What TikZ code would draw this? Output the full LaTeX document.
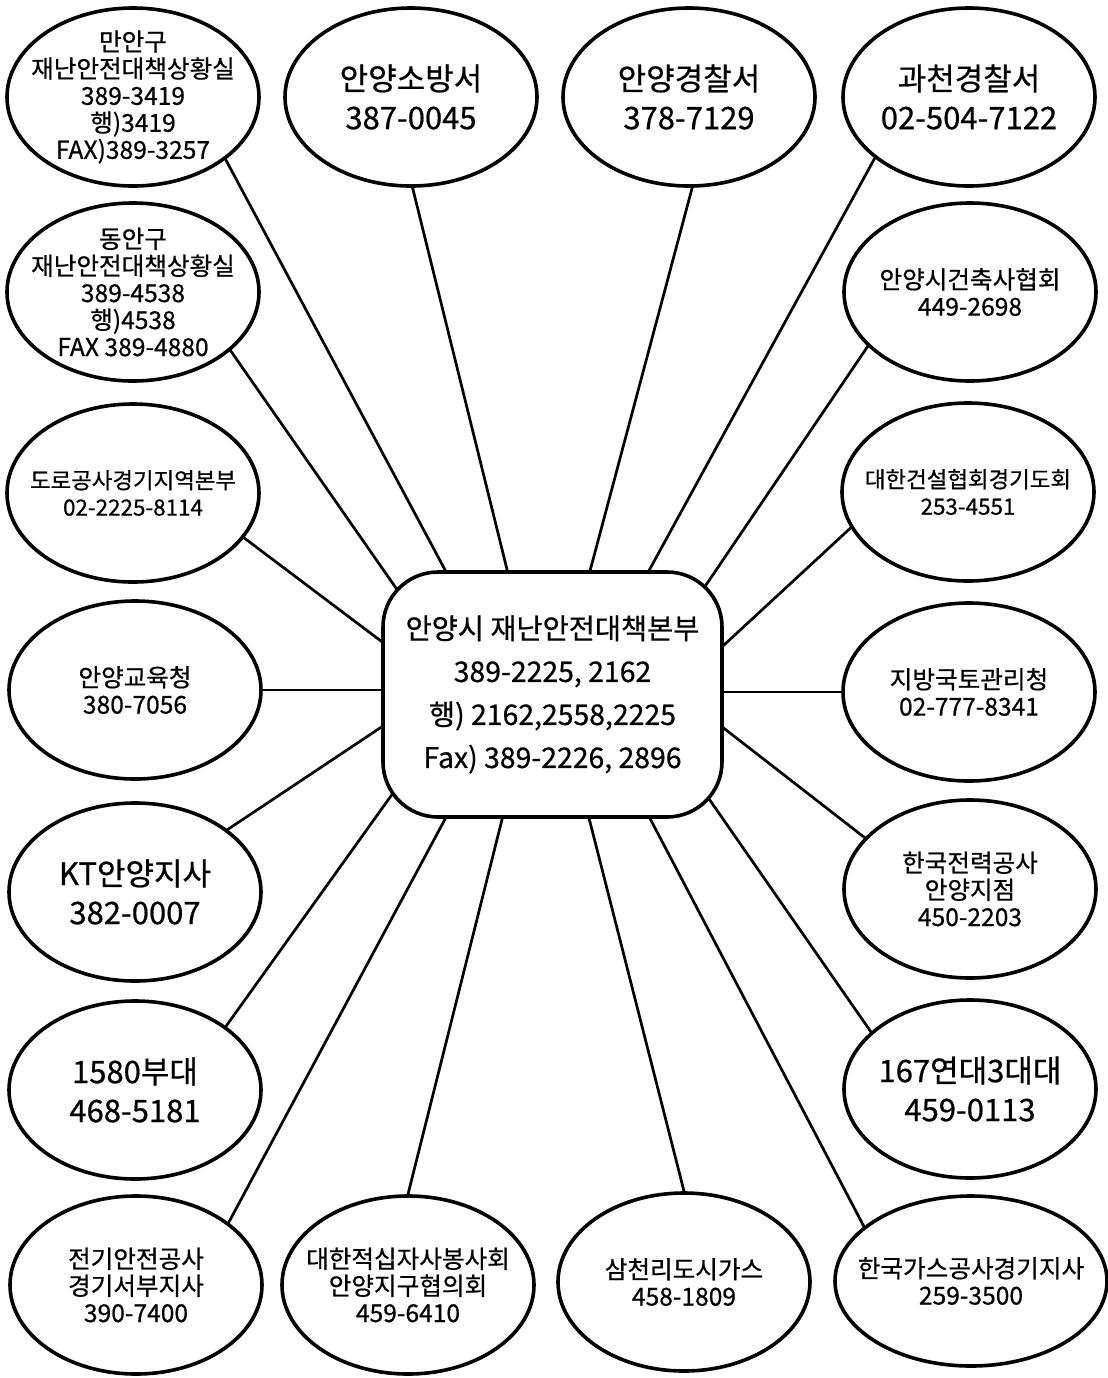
\documentclass[tikz,border=0pt]{standalone}
\usepackage{fontspec}
\setmainfont{Noto Sans CJK KR}[FakeBold=0.6]
\usetikzlibrary{shapes.geometric,calc,backgrounds}

\begin{document}
\begin{tikzpicture}[x=0.5pt,y=-0.5pt,
  office/.style={ellipse,draw,fill=white,line width=1.8pt,inner sep=-14pt,
    minimum width=126pt,minimum height=89pt,align=center,
    font=\fontsize{12.3}{13.5}\selectfont},
  big/.style={font=\fontsize{15.5}{19.5}\selectfont},
  narrow/.style={font=\fontsize{11.2}{13.5}\selectfont},
  hqbox/.style={rectangle,rounded corners=27.5pt,draw,fill=white,line width=1.8pt,
    minimum width=169.5pt,minimum height=122.5pt,align=center,
    font=\fontsize{14.2}{21.5}\selectfont},
  link/.style={line width=1.35pt,shorten <=-3pt,shorten >=-3pt}]
  \useasboundingbox (0,0) rectangle (1108,1378);

  \node[hqbox] (hq) at (552.5,694.5) {안양시 재난안전대책본부\\389-2225, 2162\\행) 2162,2558,2225\\Fax) 389-2226, 2896};

  \node[office]      (manan)    at (133,97)   {만안구\\재난안전대책상황실\\389-3419\\행)3419\\FAX)389-3257};
  \node[office,big]  (fire)     at (411,97)   {안양소방서\\387-0045};
  \node[office,big]  (police)   at (689,97)   {안양경찰서\\378-7129};
  \node[office,big]  (gwacheon) at (969,97)   {과천경찰서\\02-504-7122};
  \node[office]      (dongan)   at (133,292)  {동안구\\재난안전대책상황실\\389-4538\\행)4538\\FAX 389-4880};
  \node[office,narrow] (road)   at (133,493)  {도로공사경기지역본부\\02-2225-8114};
  \node[office]      (edu)      at (135,690)  {안양교육청\\380-7056};
  \node[office,big]  (kt)       at (135,892)  {KT안양지사\\382-0007};
  \node[office,big]  (army)     at (135,1090) {1580부대\\468-5181};
  \node[office]      (elec)     at (136,1285) {전기안전공사\\경기서부지사\\390-7400};
  \node[office]      (redcross) at (408,1285) {대한적십자사봉사회\\안양지구협의회\\459-6410};
  \node[office]      (citygas)  at (684,1282) {삼천리도시가스\\458-1809};
  \node[office,minimum width=136pt,minimum height=85pt] (kogas) at (971,1281) {한국가스공사경기지사\\259-3500};
  \node[office]      (arch)     at (970,292)  {안양시건축사협회\\449-2698};
  \node[office,narrow] (build)  at (968,492)  {대한건설협회경기도회\\253-4551};
  \node[office]      (land)     at (969,692)  {지방국토관리청\\02-777-8341};
  \node[office]      (kepco)    at (970,889)  {한국전력공사\\안양지점\\450-2203};
  \node[office,big]  (regiment) at (970,1089) {167연대3대대\\459-0113};

  \begin{scope}[on background layer]
  \path[link] (manan.-34) edge ($(hq.north west)+(64,0)$)
        (fire.-89) edge ($(hq.north west)+(126,0)$)
        (police.-88) edge ($(hq.north west)+(209,0)$)
        (gwacheon.-147) edge ($(hq.north west)+(268,0)$)
        (dongan.-31) edge ($(hq.north west)+(17,21)$)
        (road.-22) edge ($(hq.north west)+(0,71)$)
        (edu.east) edge (edu.east -| hq.west)
        (kt.34) edge ($(hq.north west)+(0,157)$)
        (army.35) edge ($(hq.south west)+(12,-26)$)
        (elec.34) edge ($(hq.south west)+(64,0)$)
        (redcross.90) edge ($(hq.south west)+(121,0)$)
        (citygas.90) edge ($(hq.south west)+(208,0)$)
        (kogas.153) edge ($(hq.south west)+(269,0)$)
        (arch.-152) edge ($(hq.north east)+(-22,21)$)
        (build.-163) edge ($(hq.north east)+(0,75)$)
        (land.west) edge (land.west -| hq.east)
        (kepco.154) edge ($(hq.north east)+(0,158)$)
        (regiment.150) edge ($(hq.south east)+(-19,-26)$);
  \end{scope}
\end{tikzpicture}
\end{document}
